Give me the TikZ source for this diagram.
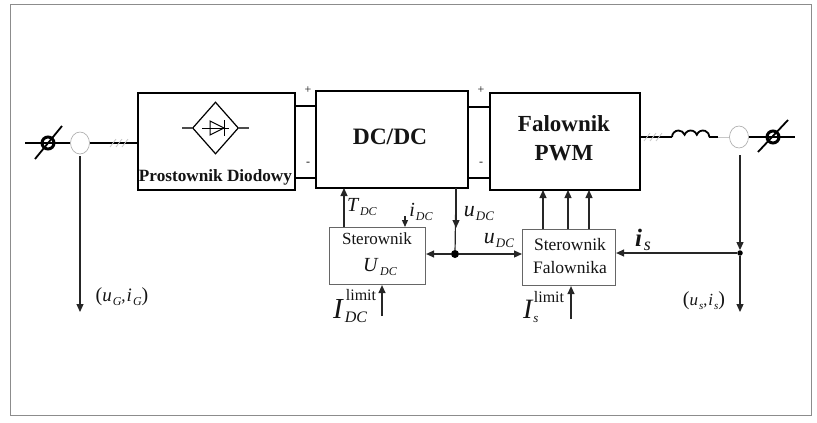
\documentclass[tikz,border=0pt]{standalone}
\usepackage{fontspec}
\setmainfont{Liberation Serif}
\usetikzlibrary{arrows.meta,shapes.geometric}
\newcommand{\fsz}[1]{\fontsize{#1}{#1}\selectfont}
\newcommand{\symb}[5]{{\fsz{#1}\textit{#2}}\kern#5\raisebox{-4pt}{\fsz{#3}\textit{#4}}}
\tikzset{
  x=1pt,y=-1pt,
  power/.style={draw=black,line width=2.4pt,fill=white,inner sep=0pt,anchor=north west},
  ctrl/.style={draw=black!60,line width=1.1pt,fill=white,inner sep=0pt,anchor=north west},
  wire/.style={draw=black,line width=1.8pt},
  sig/.style={draw=black!85,line width=1.2pt},
  arr/.style={sig,-{Triangle[length=8pt,width=7pt]}},
  faint/.style={draw=black!22,line width=0.8pt},
  lbl/.style={inner sep=0pt,outer sep=0pt,text=black!92},
  dotn/.style={circle,fill=black,inner sep=0pt,minimum size=#1},
  sens/.style={ellipse,draw=black!35,line width=0.6pt,fill=white,inner sep=0pt,minimum width=19pt,minimum height=22pt},
  ring/.style={circle,draw=black,line width=3pt,inner sep=0pt,minimum size=12pt}
}
\begin{document}
\begin{tikzpicture}
\useasboundingbox (0,0) rectangle (817,423);
\node[draw=black!45,line width=0.9pt,minimum width=801pt,minimum height=411pt,inner sep=0pt,anchor=north west] (frame) at (9.5,3.5) {};
% power boxes
\node[power,minimum width=157pt,minimum height=97pt] (rect) at (137,92) {};
\node[power,minimum width=152pt,minimum height=97pt] (dcdc) at (315,90) {};
\node[power,minimum width=150pt,minimum height=97pt] (inv) at (489,92) {};
\node[lbl,font=\fsz{17.2}\bfseries] (rectL) at (215.5,177) {Prostownik Diodowy};
\node[lbl,font=\fsz{23.5}\bfseries] (dcL) at (390,137) {DC/DC};
\node[lbl,font=\fsz{23}\bfseries,align=center] (invL) at (564,138) {Falownik\\[6pt]PWM};
% rectifier symbol
\node[diamond,draw=black,line width=1.2pt,aspect=0.88,inner sep=0pt,minimum width=46pt,minimum height=52pt] (bridge) at (215.5,128) {};
\coordinate (bl) at (182,128); \coordinate (br) at (249,128);
\draw[line width=1.1pt,draw=black!70] (bl) -- (bridge.west) (bridge.east) -- (br);
\draw[line width=1pt] (202,128) -- (229,128);
\draw[line width=1pt] (210,121) -- (210,135) -- (224,128) -- cycle;
\draw[line width=1pt] (224,120) -- (224,136);
% DC links
\foreach \ya in {106,178}{\draw[wire] (rect.east |- 0,\ya) -- (dcdc.west |- 0,\ya);}
\foreach \ya in {107,178}{\draw[wire] (dcdc.east |- 0,\ya) -- (inv.west |- 0,\ya);}
\node[lbl,font=\fsz{12}] (p1) at (308,90) {+};
\node[lbl,font=\fsz{12}] (m1) at (308,164) {-};
\node[lbl,font=\fsz{12}] (p2) at (481,90) {+};
\node[lbl,font=\fsz{12}] (m2) at (481,164) {-};
% left grid
\coordinate (gl) at (25,143);
\node[sens] (sl) at (80,143) {};
\node[ring] (rl) at (48,143) {};
\coordinate (sa) at (35,159); \coordinate (sb) at (62,126);
\draw[wire] (gl) -- (sl.west);
\draw[wire] (sa) -- (sb);
\draw[wire] (sl.east) -- (rect.west |- sl.east);
\foreach \xx in {113,119,125}{\draw[faint] (\xx-3,147) -- (\xx+3,139);}
\coordinate (gd) at (80,312);
\coordinate (gt) at (80,156);
\draw[arr] (gt) -- (gd);
\node[lbl] (ug) at (122,297) {{\fsz{20}(}\symb{19}{u}{12}{G}{1pt}{\fsz{17},}\kern1pt\symb{19}{i}{12}{G}{1pt}{\fsz{20})}};
% right grid
\node[sens] (sr) at (739,137) {};
\node[ring] (rr) at (773,137) {};
\coordinate (ls) at (672,137);
\draw[wire] (inv.east |- ls) -- (ls);
\draw[wire] (ls) arc[start angle=180,end angle=340,radius=6.5] coordinate (l1)
  arc[start angle=200,end angle=340,radius=6.5] coordinate (l2)
  arc[start angle=200,end angle=360,radius=6.5] coordinate (l3);
\draw[wire] (l3) -- (718,137) coordinate (l4);
\draw[faint] (l4) -- (sr.west);
\draw[wire] (sr.east) -- (795,137);
\draw[wire] (758,152) -- (788,120);
\foreach \xx in {647,653,659}{\draw[faint] (\xx-3,141) -- (\xx+3,133);}
% controllers
\node[ctrl,minimum width=96pt,minimum height=57pt] (cu) at (329,227) {};
\node[ctrl,minimum width=93pt,minimum height=56pt] (cf) at (522,229) {};
\node[lbl,font=\fsz{17}] (cuA) at (377,239) {Sterownik};
\node[lbl] (cuB) at (380,267) {\symb{20}{U}{12}{DC}{1.5pt}};
\node[lbl,font=\fsz{17.5}] (cfA) at (570,245) {Sterownik};
\node[lbl,font=\fsz{17.5}] (cfB) at (570,268) {Falownika};
% signal arrows
\coordinate (td) at (344,188);
\draw[arr] (cu.north -| td) -- (td);
\node[lbl] (tdc) at (362,207) {\symb{20}{T}{12}{DC}{0.5pt}};
\coordinate (ia) at (405,216);
\draw[arr,-{Triangle[length=7pt,width=6pt]}] (ia) -- (cu.north -| ia);
\node[lbl] (idc) at (421,212) {\symb{20}{i}{12}{DC}{1pt}};
\node[dotn=8pt] (j) at (455,254) {};
\coordinate (jt) at (456,188);
\coordinate (jm) at (456,228);
\draw[sig] (jt) -- (j);
\draw[arr] (jt) -- (jm);
\draw[arr] (j) -- (cu.east |- j);
\draw[arr] (j) -- (cf.west |- j);
\node[lbl] (udc1) at (479,214) {\symb{22}{u}{13}{DC}{1pt}};
\node[lbl] (udc2) at (499,241) {\symb{22}{u}{13}{DC}{1pt}};
\foreach \xx in {543,568,589}{\draw[arr] (cf.north -| \xx,0) -- (\xx,190);}
\coordinate (il) at (382,316);
\draw[arr] (il) -- (cu.south -| il);
\coordinate (isl) at (571,319);
\draw[arr] (isl) -- (cf.south -| isl);
\node[lbl,anchor=west] (idl) at (333,309) {\fsz{29}\textit{I}};
\node[lbl] (idl2) at (361,295) {\fsz{16}limit};
\node[lbl] (idl3) at (356,317) {\fsz{16}\textit{DC}};
\node[lbl,anchor=west] (isl1) at (523,309) {\fsz{28}\textit{I}};
\node[lbl] (isl2) at (549,297) {\fsz{16}limit};
\node[lbl] (isl3) at (536,319) {\fsz{13}\textit{s}};
% right feedback
\node[dotn=5.5pt] (k) at (740,253) {};
\coordinate (kt) at (740,155);
\coordinate (kb) at (740,312);
\draw[arr] (kt) -- (k);
\draw[arr] (k) -- (kb);
\draw[arr] (k) -- (cf.east |- k);
\node[lbl] (isg) at (643,240) {{\fsz{25}\bfseries\textit{i}}\kern2pt\raisebox{-4pt}{\fsz{18}\textit{s}}};
\node[lbl] (us) at (704,301) {{\fsz{20}(}\symb{17}{u}{11}{s}{1pt}{\fsz{16},}\kern1pt\symb{17}{i}{11}{s}{1pt}{\fsz{20})}};
\end{tikzpicture}
\end{document}
